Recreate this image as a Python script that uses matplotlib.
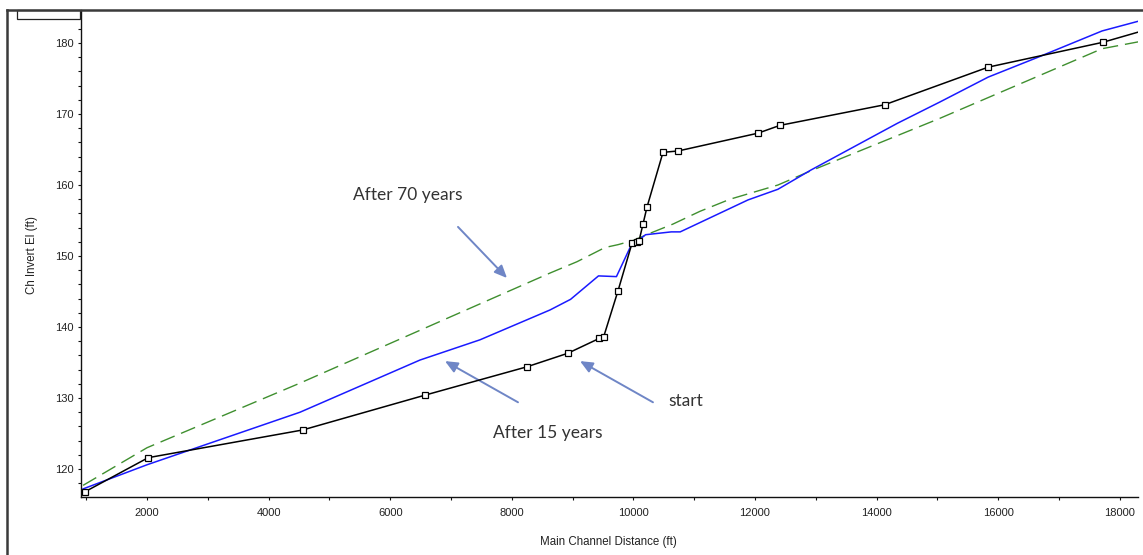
import matplotlib
matplotlib.use("Agg")
import matplotlib.pyplot as plt
from matplotlib.lines import Line2D
from matplotlib.patches import Rectangle
from matplotlib.ticker import MultipleLocator

# Channel invert profiles (distance in ft, elevation in ft)
start_x = [980, 2020, 4560, 6570, 8250, 8920, 9440, 9510, 9747, 9977, 10059,
           10092, 10158, 10224, 10487, 10738, 12049, 12410, 14131, 15836,
           17721, 18450]
start_y = [116.8, 121.6, 125.5, 130.4, 134.4, 136.3, 138.4, 138.6, 145.1,
           151.8, 152.0, 152.1, 154.5, 156.9, 164.6, 164.8, 167.3, 168.4,
           171.3, 176.6, 180.1, 181.9]

yr15_x = [948, 2000, 4516, 6490, 7477, 8628, 8967, 9426, 9721, 9951, 10200,
          10623, 10770, 11885, 12377, 12918, 14344, 15043, 15836, 16656,
          17709, 18450]
yr15_y = [117.2, 120.6, 128.0, 135.35, 138.2, 142.4, 143.9, 147.2, 147.1,
          151.3, 153.0, 153.4, 153.4, 157.9, 159.4, 162.1, 168.7, 171.7,
          175.2, 178.0, 181.7, 183.4]

yr70_x = [948, 2000, 4516, 8628, 9073, 9533, 9747, 10000, 10273, 10651,
          11096, 11589, 12377, 12918, 15043, 17709, 18450]
yr70_y = [117.7, 123.0, 132.1, 147.6, 149.2, 151.2, 151.6, 152.2, 153.2,
          154.5, 156.3, 158.0, 160.0, 162.0, 169.4, 179.2, 180.4]

x_ticks = list(range(2000, 18001, 2000))
y_ticks = list(range(120, 181, 10))

W, H = 1143, 555
fig = plt.figure(figsize=(W / 100, H / 100), dpi=100)
fig.patch.set_facecolor("white")

ax_l, ax_r, ax_b, ax_t = 81, 1138, 497, 10
ax = fig.add_axes([ax_l / W, 1 - ax_b / H, (ax_r - ax_l) / W, (ax_b - ax_t) / H])

ax.plot(yr70_x, yr70_y, color="#3f8f2f", lw=1.0, linestyle=(0, (11, 5)), zorder=2)
ax.plot(yr15_x, yr15_y, color="#1a1aff", lw=1.1, zorder=3)
ax.plot(start_x, start_y, color="black", lw=1.1, marker="s", markersize=4.2,
        markerfacecolor="white", markeredgecolor="black", markeredgewidth=0.9,
        markevery=list(range(len(start_x) - 1)), zorder=4)

ax.set_xlim(914, 18300)
ax.set_ylim(116.06, 184.65)
ax.set_xticks(x_ticks)
ax.set_yticks(y_ticks)
ax.xaxis.set_minor_locator(MultipleLocator(1000))
ax.yaxis.set_minor_locator(MultipleLocator(2))

for s in ("top", "right"):
    ax.spines[s].set_visible(False)
for s in ("left", "bottom"):
    ax.spines[s].set_linewidth(1.0)
    ax.spines[s].set_color("#111111")

ax.tick_params(which="major", length=2.5, width=0.8, pad=3, colors="#111111",
               labelsize=8)
ax.tick_params(which="minor", length=2.0, width=0.8, colors="#111111")
ax.tick_params(axis="x", pad=5.5)
for lab in ax.get_xticklabels() + ax.get_yticklabels():
    lab.set_fontfamily("Liberation Sans")
    lab.set_color("#222222")

ax.set_xlabel("Main Channel Distance (ft)", fontfamily="Liberation Sans",
              fontsize=8.3, color="#222222", va="center")
ax.set_ylabel("Ch Invert El (ft)", fontfamily="Liberation Sans",
              fontsize=8.3, color="#222222", va="center", ha="center")
ax.xaxis.set_label_coords((608 - ax_l) / (ax_r - ax_l), -(542 - ax_b) / (ax_b - ax_t))
ax.yaxis.set_label_coords((32 - ax_l) / (ax_r - ax_l), (ax_b - 255) / (ax_b - ax_t))

# Callouts
note_font = dict(family="Lato", size=12.5, color="#333333")
arrow_style = dict(arrowstyle="-|>,head_length=0.75,head_width=0.33",
                   color="#6f86c6", lw=1.4, shrinkA=0, shrinkB=0)
ax.text(6293, 158.6, "After 70 years", ha="center", va="center", **note_font)
ax.annotate("", xy=(7921, 146.9), xytext=(7115, 154.1), arrowprops=arrow_style)
ax.text(8595, 125.1, "After 15 years", ha="center", va="center", **note_font)
ax.annotate("", xy=(6901, 135.2), xytext=(8102, 129.4), arrowprops=arrow_style)
ax.text(10865, 129.6, "start", ha="center", va="center", **note_font)
ax.annotate("", xy=(9122, 135.2), xytext=(10322, 129.4), arrowprops=arrow_style)

# Outer frame lines and the small tab at top left
def fx(px):
    return px / W

def fy(py):
    return 1 - py / H

fig.add_artist(Line2D([fx(7), fx(W)], [fy(10), fy(10)], color="#3a3a3a", lw=1.8))
fig.add_artist(Line2D([fx(7), fx(7)], [fy(10), fy(H)], color="#3a3a3a", lw=1.8))
fig.add_artist(Rectangle((fx(17), fy(19)), fx(80) - fx(17), fy(10) - fy(19),
                         transform=fig.transFigure, facecolor="white",
                         edgecolor="#222222", lw=0.9))

fig.savefig("out.png", dpi=100, facecolor="white")
